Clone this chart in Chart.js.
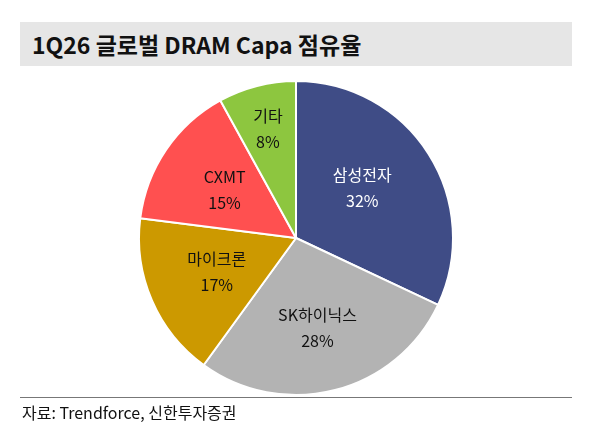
<!DOCTYPE html>
<html><head><meta charset="utf-8">
<script src="https://cdn.jsdelivr.net/npm/chart.js@4"></script>
<style>
body{margin:0;background:#fff;font-family:"Noto Sans CJK KR","Noto Sans",sans-serif;}
#title{position:absolute;left:20px;top:22px;width:552px;height:44px;background:#E6E6E6;box-sizing:border-box;padding-left:12px;font-size:23px;font-weight:bold;line-height:44px;color:#111;}
#wrap{position:absolute;left:20px;top:70px;width:552px;height:328px;}
#line{position:absolute;left:20px;top:397px;width:552px;height:1px;background:#777;}
#src{position:absolute;left:22px;top:400px;font-size:16px;color:#111;}
</style></head><body>
<div id="title">1Q26 글로벌 DRAM Capa 점유율</div>
<div id="wrap"><canvas id="c"></canvas></div>
<div id="line"></div>
<div id="src">자료: Trendforce, 신한투자증권</div>
<script>
const categories=["삼성전자","SK하이닉스","마이크론","CXMT","기타"];
const shares=[32,28,17,15,8];
const colors=["#3F4C86","#B3B3B3","#CC9900","#FF5050","#8DC63F"];
const textColors=["#fff","#111","#111","#111","#111"];
const labelPlugin={id:'lbl',afterDatasetsDraw(chart){
 const ctx=chart.ctx;const meta=chart.getDatasetMeta(0);
 const rf=[0.5,0.55,0.55,0.55,0.72];
 meta.data.forEach((a,i)=>{const ang=(a.startAngle+a.endAngle)/2;const r=a.outerRadius*rf[i];
 const x=a.x+Math.cos(ang)*r,y=a.y+Math.sin(ang)*r-(i==0?8:0)+(i==1?6:0);
 ctx.save();ctx.fillStyle=textColors[i];ctx.font='16px "Noto Sans CJK KR"';ctx.textAlign='center';ctx.textBaseline='middle';
 ctx.fillText(categories[i],x,y-13);ctx.fillText(shares[i]+'%',x,y+13);ctx.restore();});
}};
new Chart(document.getElementById('c'),{type:'pie',
data:{labels:categories,datasets:[{data:shares,backgroundColor:colors,borderColor:'#fff',borderWidth:2}]},
options:{responsive:true,maintainAspectRatio:false,animation:false,layout:{padding:{top:10,bottom:2}},
plugins:{legend:{display:false},tooltip:{enabled:false}}},plugins:[labelPlugin]});
</script></body></html>
